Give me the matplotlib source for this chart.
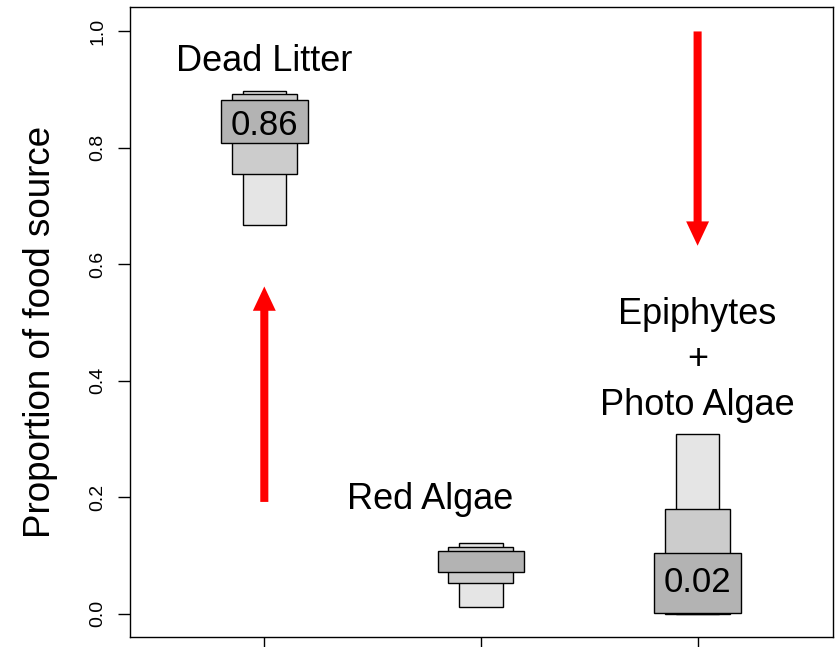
import matplotlib.pyplot as plt
from matplotlib.patches import Rectangle

plt.rcParams['font.family'] = ['Liberation Sans', 'DejaVu Sans']

# sources and their credible intervals (95%, 75%, 50%)
sources = ['Dead Litter', 'Red Algae', 'Epiphytes\n+\nPhoto Algae']
xpos = [1, 2, 3]
ci95_lo = [0.668, 0.012, 0.000]
ci95_hi = [0.898, 0.122, 0.309]
ci75_lo = [0.756, 0.052, -0.001]
ci75_hi = [0.893, 0.115, 0.180]
ci50_lo = [0.809, 0.072, 0.002]
ci50_hi = [0.883, 0.108, 0.105]

# label positions
label_x = [1.0, 1.765, 3.0]
label_y = [0.948, 0.196, 0.436]

# mode values written in boxes
mode_text = ['0.86', '', '0.02']
mode_y = [0.838, 0, 0.053]

# red arrows
arrow_x = [1, 3]
arrow_from = [0.192, 1.0]
arrow_to = [0.562, 0.632]

fig = plt.figure(figsize=(8.37, 6.47), dpi=100)
ax = fig.add_axes([130 / 837, 10 / 647, 703 / 837, 630 / 647])

levels = [(ci95_lo, ci95_hi, 0.10, '#e5e5e5'),
          (ci75_lo, ci75_hi, 0.15, '#cccccc'),
          (ci50_lo, ci50_hi, 0.20, '#b3b3b3')]
for lo, hi, hw, col in levels:
    for i in range(len(xpos)):
        ax.add_patch(Rectangle((xpos[i] - hw, lo[i]), 2 * hw, hi[i] - lo[i],
                               facecolor=col, edgecolor='black', lw=1))

for i in range(len(xpos)):
    if mode_text[i]:
        ax.text(xpos[i], mode_y[i], mode_text[i], ha='center', va='center', fontsize=25)
    ax.text(label_x[i], label_y[i], sources[i], ha='center', va='center',
            fontsize=26, linespacing=1.38)

for i in range(len(arrow_x)):
    ax.annotate('', xy=(arrow_x[i], arrow_to[i]), xytext=(arrow_x[i], arrow_from[i]),
                arrowprops=dict(width=5.8, headwidth=16.5, headlength=17.5, shrink=0,
                                facecolor='red', edgecolor='none'))

ax.set_xlim(0.38, 3.625)
ax.set_ylim(-0.04, 1.042)
ax.set_xticks(xpos)
ax.set_xticklabels([])
ax.set_yticks([0.0, 0.2, 0.4, 0.6, 0.8, 1.0])
ax.set_yticklabels(['0.0', '0.2', '0.4', '0.6', '0.8', '1.0'], rotation=90, va='center')
ax.tick_params(axis='both', direction='out', length=9, width=1, labelsize=14, pad=8)
ax.set_ylabel('Proportion of food source', fontsize=26.5)
ax.yaxis.set_label_coords(-0.103, 0.484)
for s in ax.spines.values():
    s.set_linewidth(1)

fig.savefig('out.png', dpi=100)
